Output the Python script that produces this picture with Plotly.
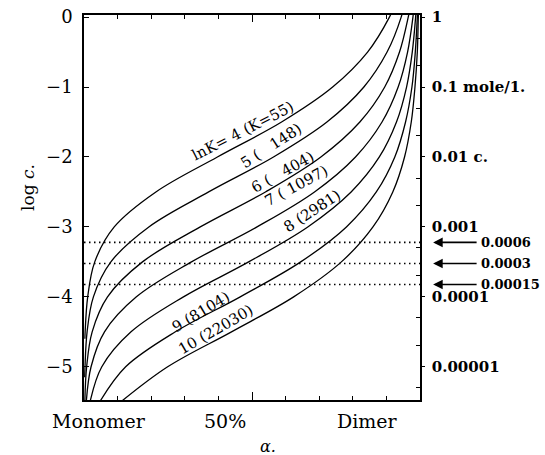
import numpy as np
import plotly.graph_objects as go

# ---- data ----
log_c_grid = [0.1, 0.0, -0.5, -1.0, -1.5, -2.0, -2.5, -3.0, -3.5, -4.0, -4.5, -5.0, -5.5]

log_c_lnK4 = [0.1, 0.0, -0.5, -1.0, -1.5, -2.0, -2.5, -3.0, -3.5, -4.0, -4.5, -4.6]
alpha_lnK4 = [0.918, 0.909, 0.844, 0.740, 0.588, 0.397, 0.214, 0.090, 0.032, 0.011, 0.0034, 0.0027]

log_c_lnK5 = [0.1, 0.0, -0.5, -1.0, -1.5, -2.0, -2.5, -3.0, -3.5, -4.0, -4.5, -5.0, -5.15]
alpha_lnK5 = [0.949, 0.944, 0.902, 0.833, 0.723, 0.564, 0.371, 0.193, 0.080, 0.028, 0.0092, 0.0030, 0.0021]

alpha_lnK6 = [0.969, 0.965, 0.939, 0.895, 0.821, 0.705, 0.540, 0.346, 0.174, 0.070, 0.0243, 0.0079, 0.0025]
alpha_lnK7 = [0.981, 0.979, 0.963, 0.935, 0.887, 0.808, 0.686, 0.515, 0.320, 0.156, 0.061, 0.021, 0.0068]
alpha_lnK8 = [0.9885, 0.987, 0.977, 0.960, 0.930, 0.879, 0.795, 0.666, 0.490, 0.296, 0.140, 0.053, 0.018]
alpha_lnK9 = [0.993, 0.992, 0.986, 0.976, 0.957, 0.925, 0.870, 0.781, 0.645, 0.465, 0.272, 0.124, 0.047]
alpha_lnK10 = [0.9957, 0.995, 0.992, 0.985, 0.974, 0.954, 0.919, 0.860, 0.766, 0.624, 0.439, 0.249, 0.110]

curve_labels = ["lnK= 4 (K=55)", "5 (\u00a0\u00a0\u00a0148)", "6 (\u00a0\u00a0\u00a0404)",
                "7 (\u00a01097)", "8 (2981)", "9 (8104)", "10 (22030)"]

ref_conc = [0.0006, 0.0003, 0.00015]
ref_labels = ["0.0006", "0.0003", "0.00015"]

left_ticks = [0, -1, -2, -3, -4, -5]
left_ticktext = ["0", "\u22121", "\u22122", "\u22123", "\u22124", "\u22125"]
right_ticktext = ["1", "0.1 mole/1.", "0.01 c.", "0.001", "0.0001", "0.00001"]
right_minor = [0.5, 0.2, 0.05, 0.02, 0.005, 0.002, 0.0005, 0.0002, 0.00005, 0.00002, 0.000005]

Y_RANGE = [-5.475, 0.03]
SERIF = "DejaVu Serif"

fig = go.Figure()

curves = [
    (alpha_lnK4, log_c_lnK4),
    (alpha_lnK5, log_c_lnK5),
    (alpha_lnK6, log_c_grid),
    (alpha_lnK7, log_c_grid),
    (alpha_lnK8, log_c_grid),
    (alpha_lnK9, log_c_grid),
    (alpha_lnK10, log_c_grid),
]
for a, lc in curves:
    fig.add_trace(go.Scatter(x=a, y=lc, mode="lines",
                             line=dict(color="black", width=1.3, shape="spline", smoothing=1.0),
                             showlegend=False, hoverinfo="skip"))

for c in ref_conc:
    lv = float(np.log10(c))
    fig.add_trace(go.Scatter(x=[0, 1], y=[lv, lv], mode="lines",
                             line=dict(color="black", width=1.6, dash="1.5px,3.5px"),
                             showlegend=False, hoverinfo="skip"))

# invisible trace to activate the top / right axes
fig.add_trace(go.Scatter(x=[0.5], y=[-3], xaxis="x2", yaxis="y2", mode="markers",
                         marker=dict(opacity=0), showlegend=False, hoverinfo="skip"))

annotations = []
label_pos = [(0.473, -1.63, -27), (0.557, -1.85, -33), (0.592, -2.21, -29),
             (0.631, -2.42, -28), (0.679, -2.77, -33), (0.348, -4.22, -31), (0.390, -4.47, -30)]
for txt, (ax_, ay_, ang) in zip(curve_labels, label_pos):
    annotations.append(dict(x=ax_, y=ay_, xref="x", yref="y", text=txt, showarrow=False,
                            xanchor="center", yanchor="middle",
                            textangle=ang, font=dict(family=SERIF, size=15, color="black")))

for c, lab in zip(ref_conc, ref_labels):
    lv = float(np.log10(c))
    annotations.append(dict(x=1.039, y=lv, xref="paper", yref="y", text="", showarrow=True,
                            ax=45, ay=0, arrowhead=2, arrowsize=1.2, arrowwidth=1.6,
                            arrowcolor="black"))
    annotations.append(dict(x=1.176, y=lv, xref="paper", yref="y", text="<b>%s</b>" % lab,
                            showarrow=False, xanchor="left", yanchor="middle",
                            font=dict(family=SERIF, size=13, color="black")))

for txt, xp in [("Monomer", 0.045), ("50%", 0.42), ("Dimer", 0.845)]:
    annotations.append(dict(x=xp, y=-0.055, xref="paper", yref="paper", text=txt,
                            showarrow=False, xanchor="center", yanchor="middle",
                            font=dict(family=SERIF, size=19, color="black")))
annotations.append(dict(x=0.548, y=-0.12, xref="paper", yref="paper", text="<i>\u03b1.</i>",
                        showarrow=False, xanchor="center", yanchor="middle",
                        font=dict(family=SERIF, size=16, color="black")))
annotations.append(dict(x=-0.167, y=0.553, xref="paper", yref="paper", text="log <i>c</i>.",
                        showarrow=False, textangle=-90, xanchor="center", yanchor="middle",
                        font=dict(family=SERIF, size=17, color="black")))

minor_x = dict(tickvals=[0.1, 0.2, 0.3, 0.4, 0.6, 0.7, 0.8, 0.9], ticks="inside",
               ticklen=4, tickwidth=1, tickcolor="black")

fig.update_layout(
    width=545, height=455,
    margin=dict(l=84, r=125, t=15, b=55),
    paper_bgcolor="white", plot_bgcolor="white",
    annotations=annotations,
    xaxis=dict(range=[0, 1], showgrid=False, zeroline=False, showline=True, linecolor="black",
               linewidth=1.5, ticks="inside", tickvals=[0.5], ticklen=8, tickwidth=1.2,
               tickcolor="black", showticklabels=False, anchor="y", automargin=False,
               minor=minor_x),
    xaxis2=dict(range=[0, 1], overlaying="x", side="top", anchor="y", showgrid=False,
                zeroline=False, showline=True, linecolor="black", linewidth=1.5,
                ticks="inside", tickvals=[0.5], ticklen=7, tickwidth=1.2, tickcolor="black",
                showticklabels=False, automargin=False, minor=minor_x),
    yaxis=dict(range=Y_RANGE, showgrid=False, zeroline=False, showline=True, linecolor="black",
               linewidth=1.5, ticks="inside", ticklen=5, tickwidth=1.2, tickcolor="black",
               tickvals=left_ticks, ticktext=left_ticktext, anchor="x", automargin=False,
               tickfont=dict(family=SERIF, size=18, color="black"), ticklabelstandoff=6),
    yaxis2=dict(range=Y_RANGE, overlaying="y", side="right", anchor="x", showgrid=False,
                zeroline=False, showline=True, linecolor="black", linewidth=1.5,
                ticks="outside", ticklen=3, tickwidth=1.2, tickcolor="black",
                tickvals=left_ticks, ticktext=["<b>%s</b>" % t for t in right_ticktext],
                tickfont=dict(family=SERIF, size=15, color="black"), ticklabelstandoff=4,
                automargin=False,
                minor=dict(tickvals=[float(v) for v in np.log10(right_minor)], ticks="inside",
                           ticklen=4, tickwidth=1, tickcolor="black")),
)

fig.write_html("out.html", config={"displayModeBar": False},
               post_script="document.body.style.margin='0';document.body.style.overflow='hidden';")
